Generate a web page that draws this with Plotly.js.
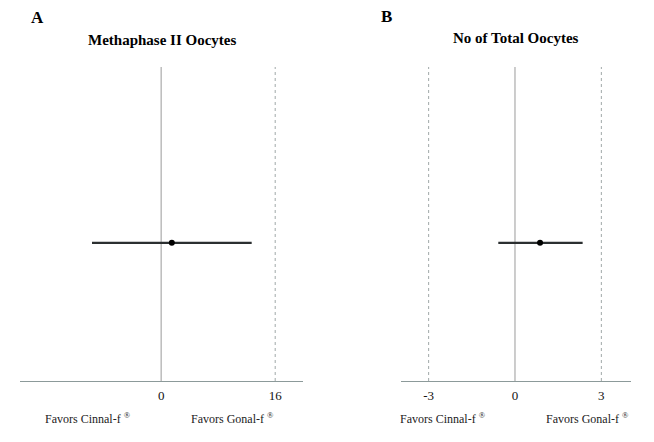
<!DOCTYPE html>
<html><head><meta charset="utf-8">
<script src="https://cdn.plot.ly/plotly-3.0.1.min.js"></script>
<style>html,body{margin:0;padding:0;background:#fff}#c{width:654px;height:442px}</style>
</head><body><div id="c"></div>
<script>
// Panel A: Metaphase II oocytes
const panelLabels = ["A", "B"];
const panelTitles = ["Methaphase II Oocytes", "No of Total Oocytes"];
const estA = [1.5];
const lowA = [-9.7];
const highA = [12.7];
const posA = [0.44];
const refA = [16];
const ticksA = [0, 16];
// Panel B: total oocytes
const estB = [0.87];
const lowB = [-0.58];
const highB = [2.35];
const posB = [0.44];
const refB = [-3, 3];
const ticksB = [-3, 0, 3];
const favorLabels = ["Favors Cinnal-f <sup>®</sup>", "Favors Gonal-f <sup>®</sup>"];

const serif = "Liberation Serif";

function ebTrace(est, lo, hi, pos, xa, ya) {
  return {
    type: 'scatter', mode: 'markers',
    x: est, y: pos, xaxis: xa, yaxis: ya,
    marker: {color: '#000', size: 6},
    error_x: {type: 'data', symmetric: false,
      array: est.map((v, i) => hi[i] - v),
      arrayminus: est.map((v, i) => v - lo[i]),
      color: '#2b2f30', thickness: 2.2, width: 0},
    showlegend: false, hoverinfo: 'skip'
  };
}

const data = [
  ebTrace(estA, lowA, highA, posA, 'x', 'y'),
  ebTrace(estB, lowB, highB, posB, 'x2', 'y2')
];

const shapes = [];
function vline(x, xr, yr, dash, color) {
  shapes.push({type: 'line', xref: xr, yref: yr + ' domain', x0: x, x1: x, y0: 0, y1: 1,
    line: {color: color, width: 1, dash: dash}, layer: 'below'});
}
vline(0, 'x', 'y', 'solid', '#9a9a9a');
refA.forEach(v => vline(v, 'x', 'y', '3px,3px', '#a0a8a8'));
vline(0, 'x2', 'y2', 'solid', '#9a9a9a');
refB.forEach(v => vline(v, 'x2', 'y2', '3px,3px', '#a0a8a8'));

const ydom = [1 - 381/442, 1 - 67/442];
const axBase = {
  showgrid: false, zeroline: false, showline: true, linecolor: '#8c9a9a', linewidth: 1,
  ticks: '', tickfont: {family: serif, size: 13, color: '#111'}, ticklabelstandoff: 2
};
const yBase = {range: [0, 1], showgrid: false, zeroline: false, showline: false, showticklabels: false, domain: ydom};

function ann(text, px, py, size, color) {
  return {text: text, xref: 'paper', yref: 'paper', x: px/654, y: 1 - py/442,
    xanchor: 'center', yanchor: 'middle', showarrow: false,
    font: {family: serif, size: size, color: color}};
}

const annotations = [
  ann('<b>' + panelLabels[0] + '</b>', 37, 18, 17, '#000'),
  ann('<b>' + panelLabels[1] + '</b>', 386, 17, 17, '#000'),
  ann('<b>' + panelTitles[0] + '</b>', 162, 40, 15, '#000'),
  ann('<b>' + panelTitles[1] + '</b>', 516, 38, 15, '#000'),
  ann(favorLabels[0], 88, 418, 12, '#222'),
  ann(favorLabels[1], 232, 418, 12, '#222'),
  ann(favorLabels[0], 443, 418, 12, '#222'),
  ann(favorLabels[1], 587, 418, 12, '#222')
];

const layout = {
  width: 654, height: 442, margin: {l: 0, r: 0, t: 0, b: 0},
  paper_bgcolor: '#fff', plot_bgcolor: '#fff',
  xaxis: Object.assign({}, axBase, {domain: [20/654, 303/654], range: [-19.8, 19.9], tickvals: ticksA, ticktext: ticksA.map(String), anchor: 'y', fixedrange: true}),
  xaxis2: Object.assign({}, axBase, {domain: [401/654, 631/654], range: [-3.96, 4.03], tickvals: ticksB, ticktext: ticksB.map(String), anchor: 'y2', fixedrange: true}),
  yaxis: Object.assign({}, yBase, {anchor: 'x', fixedrange: true}),
  yaxis2: Object.assign({}, yBase, {anchor: 'x2', fixedrange: true}),
  shapes: shapes, annotations: annotations
};

Plotly.newPlot('c', data, layout, {displayModeBar: false});
</script></body></html>
